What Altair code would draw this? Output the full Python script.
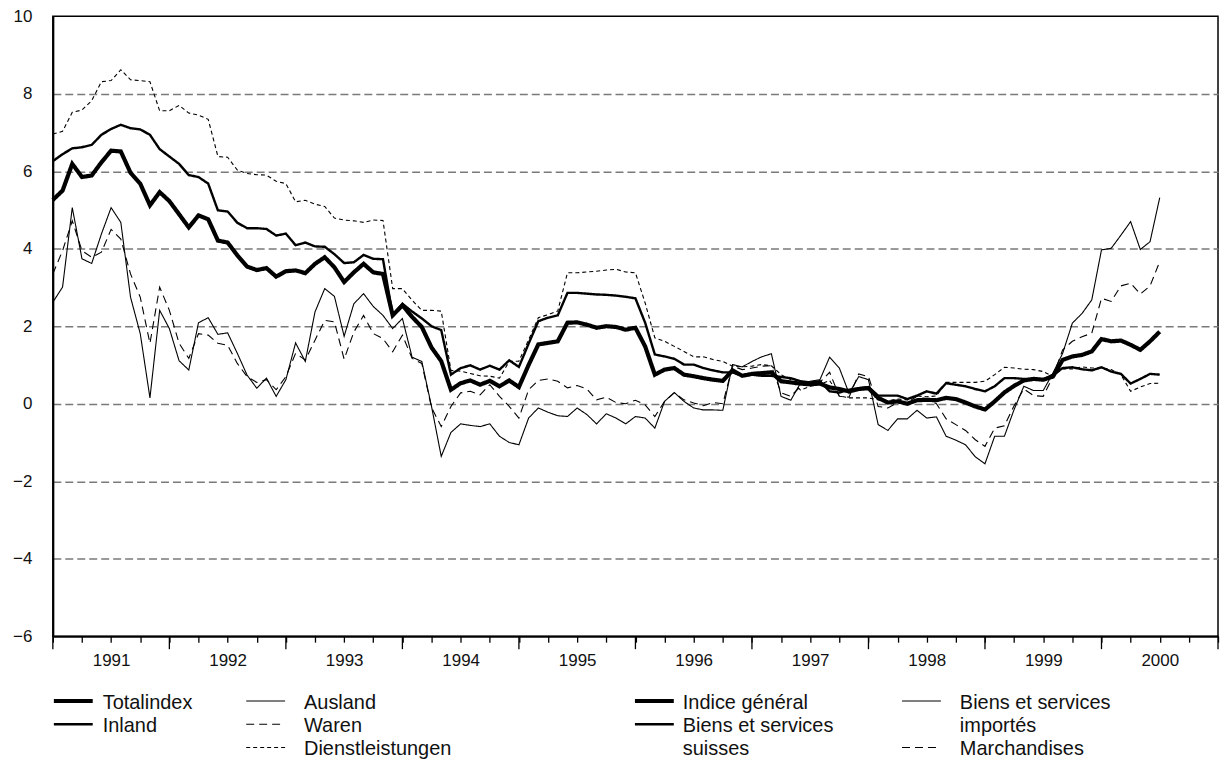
import altair as alt
import pandas as pd

# ---------------- data (monthly, Jan 1991 = month 0) ----------------
years = ["1991", "1992", "1993", "1994", "1995", "1996", "1997", "1998", "1999", "2000"]
y_tick_values = [-6, -4, -2, 0, 2, 4, 6, 8, 10]

totalindex = [5.26, 5.50, 6.19, 5.85, 5.89, 6.23, 6.53, 6.51, 5.96, 5.68,
              5.12, 5.46, 5.23, 4.89, 4.55, 4.86, 4.76, 4.21, 4.16, 3.83,
              3.54, 3.45, 3.50, 3.28, 3.42, 3.44, 3.37, 3.61, 3.78, 3.52,
              3.14, 3.39, 3.61, 3.39, 3.35, 2.28, 2.54, 2.24, 1.98, 1.45,
              1.10, 0.36, 0.53, 0.60, 0.49, 0.59, 0.45, 0.60, 0.43, 1.00,
              1.53, 1.57, 1.61, 2.09, 2.10, 2.04, 1.96, 2.00, 1.98, 1.91,
              1.96, 1.48, 0.75, 0.88, 0.92, 0.75, 0.71, 0.66, 0.62, 0.59,
              0.86, 0.72, 0.77, 0.79, 0.81, 0.58, 0.55, 0.52, 0.50, 0.52,
              0.42, 0.38, 0.32, 0.38, 0.40, 0.15, 0.03, 0.06, 0.00, 0.09,
              0.10, 0.09, 0.15, 0.12, 0.03, -0.07, -0.15, 0.06, 0.29, 0.46,
              0.60, 0.64, 0.62, 0.70, 1.13, 1.22, 1.26, 1.35, 1.67, 1.61,
              1.63, 1.52, 1.39, 1.61, 1.86]

inland = [6.26, 6.44, 6.59, 6.62, 6.68, 6.94, 7.09, 7.20, 7.11, 7.08,
          6.94, 6.57, 6.38, 6.19, 5.90, 5.85, 5.68, 4.99, 4.96, 4.67,
          4.53, 4.53, 4.51, 4.34, 4.39, 4.09, 4.16, 4.06, 4.05, 3.86,
          3.63, 3.65, 3.84, 3.74, 3.73, 2.28, 2.58, 2.38, 2.20, 2.00,
          1.90, 0.75, 0.92, 0.99, 0.88, 0.98, 0.88, 1.12, 0.95, 1.55,
          2.13, 2.22, 2.28, 2.86, 2.86, 2.84, 2.82, 2.81, 2.79, 2.76,
          2.72, 2.09, 1.27, 1.22, 1.16, 1.01, 1.01, 0.92, 0.86, 0.81,
          0.81, 0.72, 0.75, 0.72, 0.72, 0.69, 0.66, 0.58, 0.55, 0.58,
          0.32, 0.29, 0.36, 0.40, 0.43, 0.21, 0.21, 0.21, 0.12, 0.21,
          0.32, 0.26, 0.53, 0.49, 0.45, 0.38, 0.32, 0.45, 0.66, 0.66,
          0.64, 0.64, 0.62, 0.75, 0.92, 0.94, 0.89, 0.86, 0.94, 0.83,
          0.77, 0.52, 0.64, 0.77, 0.75]

ausland = [2.62, 3.01, 5.06, 3.74, 3.62, 4.38, 5.06, 4.68, 2.75, 1.81,
           0.15, 2.41, 1.94, 1.11, 0.87, 2.09, 2.22, 1.79, 1.83, 1.30,
           0.74, 0.40, 0.66, 0.19, 0.62, 1.57, 1.09, 2.37, 2.97, 2.77,
           1.74, 2.58, 2.84, 2.51, 2.28, 1.94, 2.20, 1.20, 1.09, -0.07,
           -1.36, -0.74, -0.52, -0.56, -0.59, -0.52, -0.84, -1.00, -1.06, -0.37,
           -0.11, -0.22, -0.31, -0.33, -0.11, -0.28, -0.52, -0.26, -0.37, -0.52,
           -0.33, -0.37, -0.63, 0.06, 0.29, 0.06, -0.11, -0.16, -0.16, -0.17,
           1.01, 0.95, 1.09, 1.21, 1.29, 0.19, 0.09, 0.53, 0.58, 0.62,
           1.20, 0.92, 0.27, 0.70, 0.62, -0.54, -0.69, -0.39, -0.39, -0.17,
           -0.37, -0.34, -0.84, -0.94, -1.06, -1.37, -1.55, -0.84, -0.84, -0.15,
           0.45, 0.34, 0.34, 0.79, 1.30, 2.08, 2.33, 2.68, 3.97, 4.01,
           4.35, 4.70, 3.98, 4.18, 5.32]

waren = [3.35, 3.95, 4.72, 3.95, 3.78, 3.91, 4.50, 4.25, 3.35, 2.75,
         1.56, 3.01, 2.41, 1.56, 1.17, 1.81, 1.77, 1.56, 1.51, 1.04,
         0.70, 0.55, 0.62, 0.36, 0.70, 1.30, 1.13, 1.64, 2.15, 2.11,
         1.15, 1.85, 2.28, 1.81, 1.68, 1.34, 1.77, 1.17, 1.04, -0.10,
         -0.59, -0.07, 0.28, 0.32, 0.23, 0.49, 0.19, -0.07, -0.37, 0.36,
         0.60, 0.64, 0.58, 0.41, 0.47, 0.38, 0.10, 0.17, 0.03, 0.00,
         0.09, -0.03, -0.33, 0.06, 0.28, 0.10, 0.02, -0.05, 0.03, 0.00,
         0.97, 0.88, 0.92, 0.97, 0.98, 0.28, 0.19, 0.45, 0.55, 0.55,
         0.81, 0.19, 0.17, 0.77, 0.70, -0.07, -0.11, 0.03, 0.03, 0.19,
         0.12, 0.00, -0.39, -0.54, -0.69, -0.93, -1.10, -0.63, -0.57, -0.05,
         0.38, 0.21, 0.19, 0.70, 1.39, 1.61, 1.73, 1.82, 2.72, 2.64,
         3.04, 3.11, 2.83, 3.04, 3.67]

dienstleistungen = [6.96, 7.03, 7.52, 7.58, 7.82, 8.31, 8.34, 8.62, 8.36, 8.34,
                    8.31, 7.56, 7.56, 7.70, 7.50, 7.45, 7.34, 6.38, 6.36, 6.03,
                    5.94, 5.91, 5.90, 5.74, 5.68, 5.21, 5.25, 5.15, 5.09, 4.79,
                    4.74, 4.72, 4.68, 4.74, 4.73, 2.97, 2.97, 2.67, 2.41, 2.41,
                    2.39, 0.86, 0.84, 0.78, 0.72, 0.71, 0.66, 1.09, 1.10, 1.65,
                    2.22, 2.30, 2.39, 3.38, 3.38, 3.40, 3.42, 3.45, 3.47, 3.40,
                    3.38, 2.60, 1.70, 1.61, 1.48, 1.35, 1.21, 1.21, 1.14, 1.09,
                    0.97, 0.95, 0.97, 1.01, 0.98, 0.75, 0.62, 0.35, 0.45, 0.50,
                    0.60, 0.20, 0.15, 0.15, 0.15, 0.10, 0.08, 0.12, 0.10, 0.20,
                    0.18, 0.20, 0.55, 0.55, 0.55, 0.55, 0.58, 0.75, 0.94, 0.92,
                    0.89, 0.88, 0.83, 0.70, 0.90, 0.90, 0.95, 0.92, 0.92, 0.88,
                    0.75, 0.32, 0.43, 0.52, 0.53]

series_keys = ["total", "inland", "ausland", "waren", "dienst"]
labels_de = ["Totalindex", "Inland", "Ausland", "Waren", "Dienstleistungen"]
labels_fr = ["Indice général", "Biens et services\nsuisses",
             "Biens et services\nimportés", "Marchandises"]

values_by_key = {"total": totalindex, "inland": inland, "ausland": ausland,
                 "waren": waren, "dienst": dienstleistungen}

# ---------------- styles ----------------
FONT = "Liberation Sans"
widths = {"total": 4.2, "inland": 2.4, "ausland": 1.1, "waren": 1.1, "dienst": 1.1}
dashes = {"total": [1, 0], "inland": [1, 0], "ausland": [1, 0],
          "waren": [8, 5], "dienst": [4, 3]}
PLOT_W, PLOT_H = 1169, 622

year_array = "[" + ",".join("'" + y + "'" for y in years) + "]"
x_scale = alt.Scale(domain=[0, 12 * len(years)], nice=False, zero=False)
y_scale = alt.Scale(domain=[-6, 10], nice=False, zero=False)

x_axis = alt.Axis(
    values=list(range(0, 12 * len(years) + 1, 3)),
    tickSize=6, tickColor="black", tickWidth=1.3,
    labelExpr=f"datum.value % 12 === 6 ? {year_array}[floor(datum.value / 12)] : ''",
    labelPadding=10, labelFontSize=17, labelFont=FONT, labelColor="#111",
    labelOverlap=False, labelFlush=False,
    domainColor="black", domainWidth=2, grid=False, title=None,
)
y_axis = alt.Axis(
    values=y_tick_values, ticks=False, tickSize=0,
    labelPadding=21, labelFontSize=17, labelFont=FONT, labelColor="#111",
    labelFlush=False, labelOverlap=False,
    domainColor="black", domainWidth=2,
    grid=True, gridDash=[8, 4], gridWidth=1.4,
    gridColor={"condition": {"test": "datum.value === 10 || datum.value === -6",
                             "value": "transparent"}, "value": "#7a7a7a"},
    title=None,
)

x_enc = alt.X("i:Q", scale=x_scale, axis=x_axis)
y_enc = alt.Y("v:Q", scale=y_scale, axis=y_axis)

layers = []
for key in ["dienst", "waren", "ausland", "inland", "total"]:
    vals = values_by_key[key]
    df = pd.DataFrame({"i": list(range(len(vals))), "v": vals})
    layers.append(
        alt.Chart(df).mark_line(color="black", strokeJoin="miter", strokeCap="butt",
                                strokeWidth=widths[key], strokeDash=dashes[key])
        .encode(x=x_enc, y=y_enc)
    )

# long ticks at the year boundaries (through the x scale)
year_bounds = pd.DataFrame({"i": [12 * k for k in range(len(years) + 1)]})
year_ticks = alt.Chart(year_bounds).mark_rule(color="black", strokeWidth=1.3).encode(
    x=alt.X("i:Q", scale=x_scale, axis=x_axis),
    y=alt.value(PLOT_H), y2=alt.value(PLOT_H + 13),
)

# ---------------- legend (built from the label lists) ----------------
fr_map = dict(zip(["total", "inland", "ausland", "waren"], labels_fr))
de_map = dict(zip(series_keys, labels_de))
legend_columns = [
    (de_map, ["total", "inland"]),
    (de_map, ["ausland", "waren", "dienst"]),
    (fr_map, ["total", "inland"]),
    (fr_map, ["ausland", "waren"]),
]
col_sym_x = [1, 194, 584, 852]
col_text_x = [50, 252, 632, 910]
SYM_LEN = 39
ROW0 = 687
ROW_H = 23.3

rows = []
for c, (lab_map, keys) in enumerate(legend_columns):
    r = 0
    for k in keys:
        lab = lab_map[k]
        sy = ROW0 + r * ROW_H
        rows.append({"key": k, "label": lab,
                     "sx0": col_sym_x[c], "sx1": col_sym_x[c] + SYM_LEN, "sy": sy,
                     "tx": col_text_x[c], "ty": sy + 8})
        r += lab.count("\n") + 1
legend_df = pd.DataFrame(rows)

legend_layers = []
for key in series_keys:
    legend_layers.append(
        alt.Chart(legend_df).transform_filter(alt.datum.key == key)
        .mark_rule(color="black", strokeCap="butt",
                   strokeWidth=widths[key], strokeDash=dashes[key])
        .encode(x=alt.X("sx0:Q", scale=None, axis=None), x2="sx1:Q",
                y=alt.Y("sy:Q", scale=None, axis=None))
    )
legend_text = alt.Chart(legend_df).mark_text(
    align="left", baseline="alphabetic", fontSize=20, font=FONT, color="#111",
    lineBreak="\n", lineHeight=23.3,
).encode(
    x=alt.X("tx:Q", scale=None, axis=None),
    y=alt.Y("ty:Q", scale=None, axis=None),
    text="label:N",
)

chart = alt.layer(*layers, year_ticks, *legend_layers, legend_text).properties(
    width=PLOT_W, height=PLOT_H,
    autosize=alt.AutoSizeParams(type="none"),
    padding={"left": 45, "top": 7, "right": 2, "bottom": 142},
).configure_view(stroke="black", strokeWidth=1.5)

chart.save("out.html", embed_options={"renderer": "svg", "actions": False})
